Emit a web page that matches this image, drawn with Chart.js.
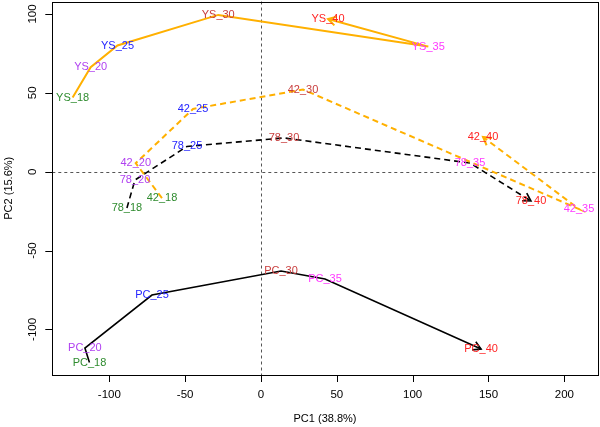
<!DOCTYPE html>
<html>
<head>
<meta charset="utf-8">
<script src="https://cdn.jsdelivr.net/npm/chart.js@4"></script>
<style>
html,body{margin:0;padding:0;background:#fff;}
#wrap{width:600px;height:427px;}
</style>
</head>
<body>
<div id="wrap"><canvas id="c" width="600" height="427"></canvas></div>
<script>
// ---- data ----
const temps = ['18', '20', '25', '30', '35', '40'];
const tempColors = ['#2E8B2E', '#B040F0', '#2424FF', '#C83C3C', '#FF38FF', '#FF2424'];

const ysX = [-124.2, -112.3, -94.6, -28.2, 110.3, 44.2];
const ysY = [47.0, 66.2, 80.0, 99.4, 79.3, 96.8];

const s42X = [-65.3, -82.6, -44.8, 27.7, 209.7, 146.4];
const s42Y = [-16.7, 5.4, 39.8, 52.1, -23.7, 22.0];

const s78X = [-88.4, -83.1, -48.8, 15.2, 137.8, 178.0];
const s78Y = [-23.0, -5.3, 16.0, 21.4, 5.5, -18.6];

const pcX = [-113.1, -116.1, -71.9, 13.2, 42.2, 145.1];
const pcY = [-121.0, -111.8, -78.2, -63.0, -68.0, -112.4];

const xTicks = [-100, -50, 0, 50, 100, 150, 200];
const yTicks = [-100, -50, 0, 50, 100];
const xTitle = 'PC1 (38.8%)';
const yTitle = 'PC2 (15.6%)';

const seriesDefs = [
  {prefix: 'YS_', xs: ysX, ys: ysY, color: '#FFB000', dash: [], width: 2},
  {prefix: '42_', xs: s42X, ys: s42Y, color: '#FFB000', dash: [6, 4], width: 2},
  {prefix: '78_', xs: s78X, ys: s78Y, color: '#000000', dash: [6, 4], width: 1.6},
  {prefix: 'PC_', xs: pcX, ys: pcY, color: '#000000', dash: [], width: 1.6}
];

const datasets = seriesDefs.map(s => ({
  label: s.prefix,
  data: s.xs.map((x, i) => ({x: x, y: s.ys[i]})),
  showLine: true,
  borderColor: s.color,
  borderWidth: s.width,
  borderDash: s.dash,
  pointRadius: 0,
  tension: 0,
  fill: false
}));

const FONT = '"Liberation Sans", Arial, sans-serif';

const decor = {
  id: 'decor',
  beforeDatasetsDraw(chart) {
    const ctx = chart.ctx, a = chart.chartArea;
    const xs = chart.scales.x, ys = chart.scales.y;
    ctx.save();
    ctx.strokeStyle = '#555';
    ctx.lineWidth = 1;
    ctx.setLineDash([3, 3]);
    const x0 = Math.round(xs.getPixelForValue(0)) + 0.5;
    const y0 = Math.round(ys.getPixelForValue(0)) + 0.5;
    ctx.beginPath();
    ctx.moveTo(x0, a.top); ctx.lineTo(x0, a.bottom);
    ctx.moveTo(a.left, y0); ctx.lineTo(a.right, y0);
    ctx.stroke();
    ctx.restore();
  },
  afterDatasetsDraw(chart) {
    const ctx = chart.ctx, a = chart.chartArea;
    const xs = chart.scales.x, ys = chart.scales.y;
    ctx.save();
    // arrowheads at the last point of each series
    chart.data.datasets.forEach((ds, di) => {
      const s = seriesDefs[di];
      const n = ds.data.length;
      const p1 = ds.data[n - 2], p2 = ds.data[n - 1];
      const x1 = xs.getPixelForValue(p1.x), y1 = ys.getPixelForValue(p1.y);
      const x2 = xs.getPixelForValue(p2.x), y2 = ys.getPixelForValue(p2.y);
      const ang = Math.atan2(y2 - y1, x2 - x1);
      const L = 9, h = Math.PI / 6;
      ctx.setLineDash([]);
      ctx.strokeStyle = s.color;
      ctx.lineWidth = s.width;
      ctx.beginPath();
      ctx.moveTo(x2 - L * Math.cos(ang - h), y2 - L * Math.sin(ang - h));
      ctx.lineTo(x2, y2);
      ctx.lineTo(x2 - L * Math.cos(ang + h), y2 - L * Math.sin(ang + h));
      ctx.stroke();
    });
    // point labels
    ctx.font = '11px ' + FONT;
    ctx.textAlign = 'center';
    ctx.textBaseline = 'middle';
    chart.data.datasets.forEach((ds, di) => {
      const s = seriesDefs[di];
      ds.data.forEach((p, i) => {
        ctx.fillStyle = tempColors[i];
        ctx.fillText(s.prefix + temps[i], xs.getPixelForValue(p.x), ys.getPixelForValue(p.y));
      });
    });
    // box
    ctx.setLineDash([]);
    ctx.strokeStyle = '#000';
    ctx.lineWidth = 1;
    ctx.strokeRect(Math.round(a.left) + 0.5, Math.round(a.top) + 0.5,
                   Math.round(a.right) - Math.round(a.left), Math.round(a.bottom) - Math.round(a.top));
    // x ticks
    ctx.fillStyle = '#000';
    ctx.font = '11.5px ' + FONT;
    ctx.beginPath();
    xs.ticks.forEach(t => {
      const px = Math.round(xs.getPixelForValue(t.value)) + 0.5;
      ctx.moveTo(px, a.bottom); ctx.lineTo(px, a.bottom + 7);
    });
    ys.ticks.forEach(t => {
      const py = Math.round(ys.getPixelForValue(t.value)) + 0.5;
      ctx.moveTo(a.left, py); ctx.lineTo(a.left - 7, py);
    });
    ctx.stroke();
    ctx.textAlign = 'center';
    ctx.textBaseline = 'middle';
    xs.ticks.forEach(t => {
      ctx.fillText(String(t.value), xs.getPixelForValue(t.value), 395);
    });
    ys.ticks.forEach(t => {
      ctx.save();
      ctx.translate(33, ys.getPixelForValue(t.value));
      ctx.rotate(-Math.PI / 2);
      ctx.fillText(String(t.value), 0, 0);
      ctx.restore();
    });
    // axis titles
    ctx.font = '11px ' + FONT;
    ctx.fillText(xTitle, (a.left + a.right) / 2, 419);
    ctx.save();
    ctx.translate(9, (a.top + a.bottom) / 2);
    ctx.rotate(-Math.PI / 2);
    ctx.fillText(yTitle, 0, 0);
    ctx.restore();
    ctx.restore();
  }
};

new Chart(document.getElementById('c'), {
  type: 'scatter',
  data: {datasets: datasets},
  options: {
    responsive: false,
    animation: false,
    devicePixelRatio: 1,
    layout: {padding: {top: 1.5, right: 2.3, left: 0, bottom: 0}},
    plugins: {legend: {display: false}, tooltip: {enabled: false}},
    scales: {
      x: {
        type: 'linear', min: -137.6, max: 222.0,
        grid: {display: false}, border: {display: false},
        ticks: {display: false},
        afterBuildTicks: s => { s.ticks = xTicks.map(v => ({value: v})); },
        afterFit: s => { s.height = 52; }
      },
      y: {
        type: 'linear', min: -128.9, max: 107.9,
        grid: {display: false}, border: {display: false},
        ticks: {display: false},
        afterBuildTicks: s => { s.ticks = yTicks.map(v => ({value: v})); },
        afterFit: s => { s.width = 52.3; }
      }
    }
  },
  plugins: [decor]
});
</script>
</body>
</html>
